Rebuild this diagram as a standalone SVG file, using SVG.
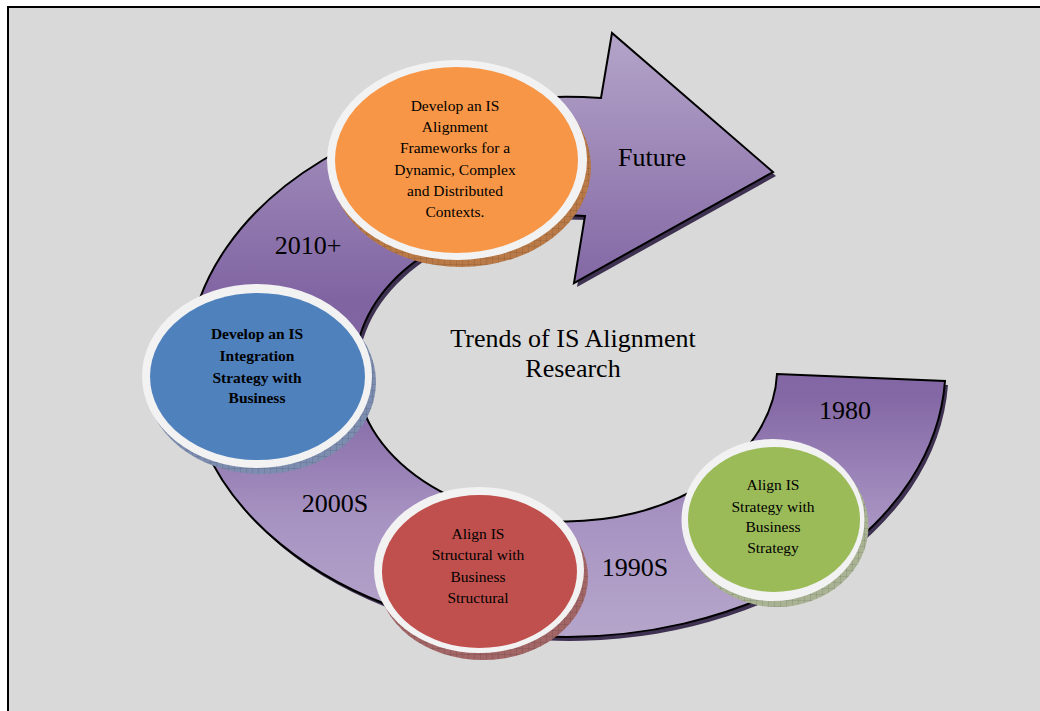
<svg xmlns="http://www.w3.org/2000/svg" width="1040" height="711" viewBox="0 0 1040 711">
<style>
.big{font-family:"Liberation Serif","Times New Roman",serif;font-size:26px;fill:#000;text-anchor:middle}
.sm{font-family:"Liberation Serif","Times New Roman",serif;font-size:15.5px;fill:#000;text-anchor:middle}
.bold{font-weight:bold}
.ring{fill:#f2f2f2}
.arrowline{stroke:#000;stroke-width:2;stroke-linejoin:miter}
</style>
<defs>
<linearGradient id="pg" gradientUnits="userSpaceOnUse" x1="0" y1="33" x2="0" y2="640">
<stop offset="0" stop-color="#b4a4c9"/>
<stop offset="0.44" stop-color="#8064a2"/>
<stop offset="0.6" stop-color="#8468a5"/>
<stop offset="0.8" stop-color="#a793c2"/>
<stop offset="1" stop-color="#b6a6cb"/>
</linearGradient>
<pattern id="grid" patternUnits="userSpaceOnUse" width="6" height="6">
<path d="M0 0H6M0 0V6" stroke="#000" stroke-opacity="0.25" stroke-width="0.7" fill="none"/>
</pattern>
<path id="arrow" d="M777,374 L945,381 A379 270 0 1 1 601,98 L612,33 L773,172 L574,283 L585,216 A211 153 0 1 0 777,374 Z"/>
</defs>
<rect x="0" y="0" width="1040" height="711" fill="#ffffff"/>
<rect x="8" y="7" width="1040" height="712" fill="#d9d9d9" stroke="#000" stroke-width="2"/>
<g id="connectors">
<use href="#arrow" transform="translate(3,4)" fill="#3f3151"/>
<use href="#arrow" fill="url(#pg)" class="arrowline"/>
<text class="big" x="652" y="166">Future</text>
<text class="big" x="308" y="254">2010+</text>
<text class="big" x="335" y="512">2000S</text>
<text class="big" x="635" y="576">1990S</text>
<text class="big" x="845" y="419">1980</text>
</g>
<g id="title">
<text class="big" x="573" y="347">Trends of IS Alignment</text>
<text class="big" x="573" y="377">Research</text>
</g>
<g id="node-green">
<ellipse cx="777" cy="526" rx="91.5" ry="81" fill="#a9b394"/>
<ellipse cx="777" cy="526" rx="91.5" ry="81" fill="url(#grid)"/>
<ellipse class="ring" cx="773" cy="520" rx="91.5" ry="81"/>
<ellipse cx="774" cy="519.5" rx="86" ry="72.5" fill="#9bbb59"/>
<text class="sm" x="773" y="490">Align IS</text>
<text class="sm" x="773" y="512">Strategy with</text>
<text class="sm" x="773" y="532">Business</text>
<text class="sm" x="773" y="553">Strategy</text>
</g>
<g id="node-red">
<ellipse cx="483" cy="577" rx="105" ry="83" fill="#a26666"/>
<ellipse cx="483" cy="577" rx="105" ry="83" fill="url(#grid)"/>
<ellipse class="ring" cx="479" cy="570" rx="105" ry="83"/>
<ellipse cx="479.5" cy="571.5" rx="97.5" ry="76.5" fill="#c0504d"/>
<text class="sm" x="478" y="539">Align IS</text>
<text class="sm" x="478" y="560">Structural with</text>
<text class="sm" x="478" y="582">Business</text>
<text class="sm" x="478" y="603">Structural</text>
</g>
<g id="node-blue">
<ellipse cx="261" cy="382" rx="115" ry="92" fill="#7d8db0"/>
<ellipse cx="261" cy="382" rx="115" ry="92" fill="url(#grid)"/>
<ellipse class="ring" cx="257" cy="376" rx="115" ry="92"/>
<ellipse cx="257.5" cy="376.5" rx="107.5" ry="83.5" fill="#4f81bd"/>
<text class="sm bold" x="257" y="339">Develop an IS</text>
<text class="sm bold" x="257" y="361">Integration</text>
<text class="sm bold" x="257" y="383">Strategy with</text>
<text class="sm bold" x="257" y="403">Business</text>
</g>
<g id="node-orange">
<ellipse cx="461" cy="167" rx="130" ry="100" fill="#b97a47"/>
<ellipse cx="461" cy="167" rx="130" ry="100" fill="url(#grid)"/>
<ellipse class="ring" cx="457" cy="160" rx="130" ry="100"/>
<ellipse cx="456.5" cy="160" rx="121.5" ry="93" fill="#f79646"/>
<text class="sm" x="455" y="111">Develop an IS</text>
<text class="sm" x="455" y="132">Alignment</text>
<text class="sm" x="455" y="153">Frameworks for a</text>
<text class="sm" x="455" y="175">Dynamic, Complex</text>
<text class="sm" x="455" y="196">and Distributed</text>
<text class="sm" x="455" y="217">Contexts.</text>
</g>
</svg>
